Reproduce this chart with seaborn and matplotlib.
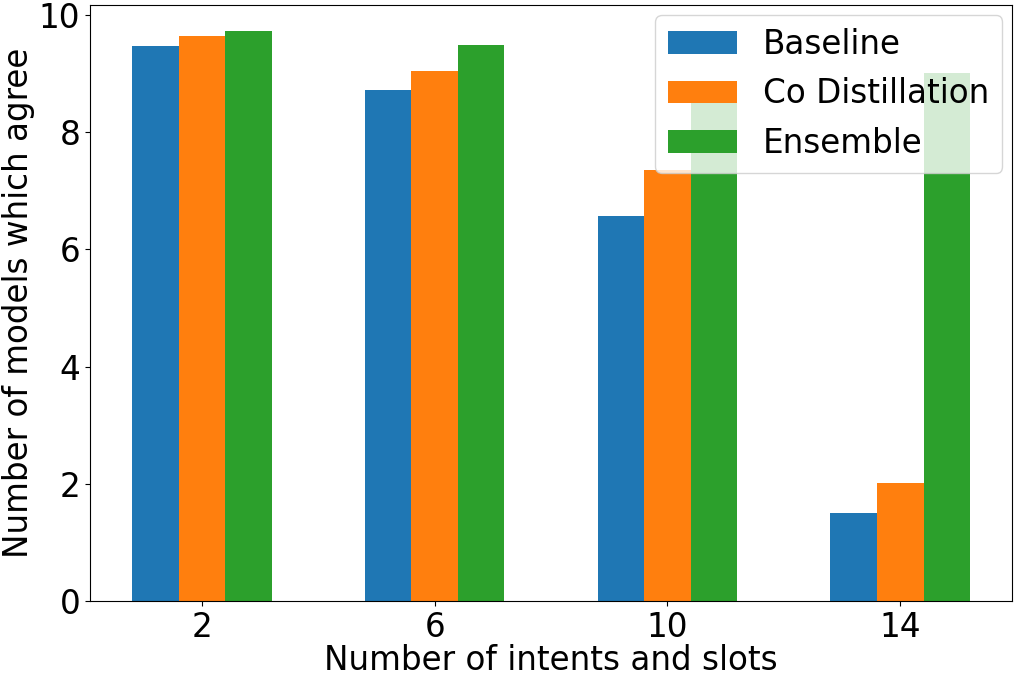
import matplotlib
matplotlib.use("Agg")
import matplotlib.pyplot as plt
import seaborn as sns
import pandas as pd

categories = ["2", "6", "10", "14"]
series_names = ["Baseline", "Co Distillation", "Ensemble"]
baseline = [9.47, 8.72, 6.57, 1.50]
co_distillation = [9.64, 9.04, 7.35, 2.01]
ensemble = [9.73, 9.49, 8.72, 9.01]
colors = ["#1f77b4", "#ff7f0e", "#2ca02c"]

rows = []
for name, vals in zip(series_names, [baseline, co_distillation, ensemble]):
    for c, v in zip(categories, vals):
        rows.append({"x": c, "value": v, "series": name})
df = pd.DataFrame(rows)

plt.rcParams['font.family'] = ['DejaVu Sans']
fig = plt.figure(figsize=(10.29, 6.77), dpi=100)
ax = fig.add_axes([0.0875, 0.1123, 0.896, 0.880])
sns.barplot(data=df, x="x", y="value", hue="series", order=categories,
            hue_order=series_names, palette=colors, width=0.6, saturation=1,
            errorbar=None, ax=ax)
ax.set_xlim(-0.48, 3.48)
ax.set_ylim(0, 10.17)
ax.set_yticks([0, 2, 4, 6, 8, 10])
ax.tick_params(labelsize=23.5)
ax.set_xlabel("Number of intents and slots", fontsize=23.5, labelpad=0)
ax.set_ylabel("Number of models which agree", fontsize=23.5, labelpad=3)
ax.legend(loc="upper right", fontsize=23.5, framealpha=0.8,
          borderaxespad=0.3, handlelength=2.1)
fig.savefig("out.png", dpi=100)
